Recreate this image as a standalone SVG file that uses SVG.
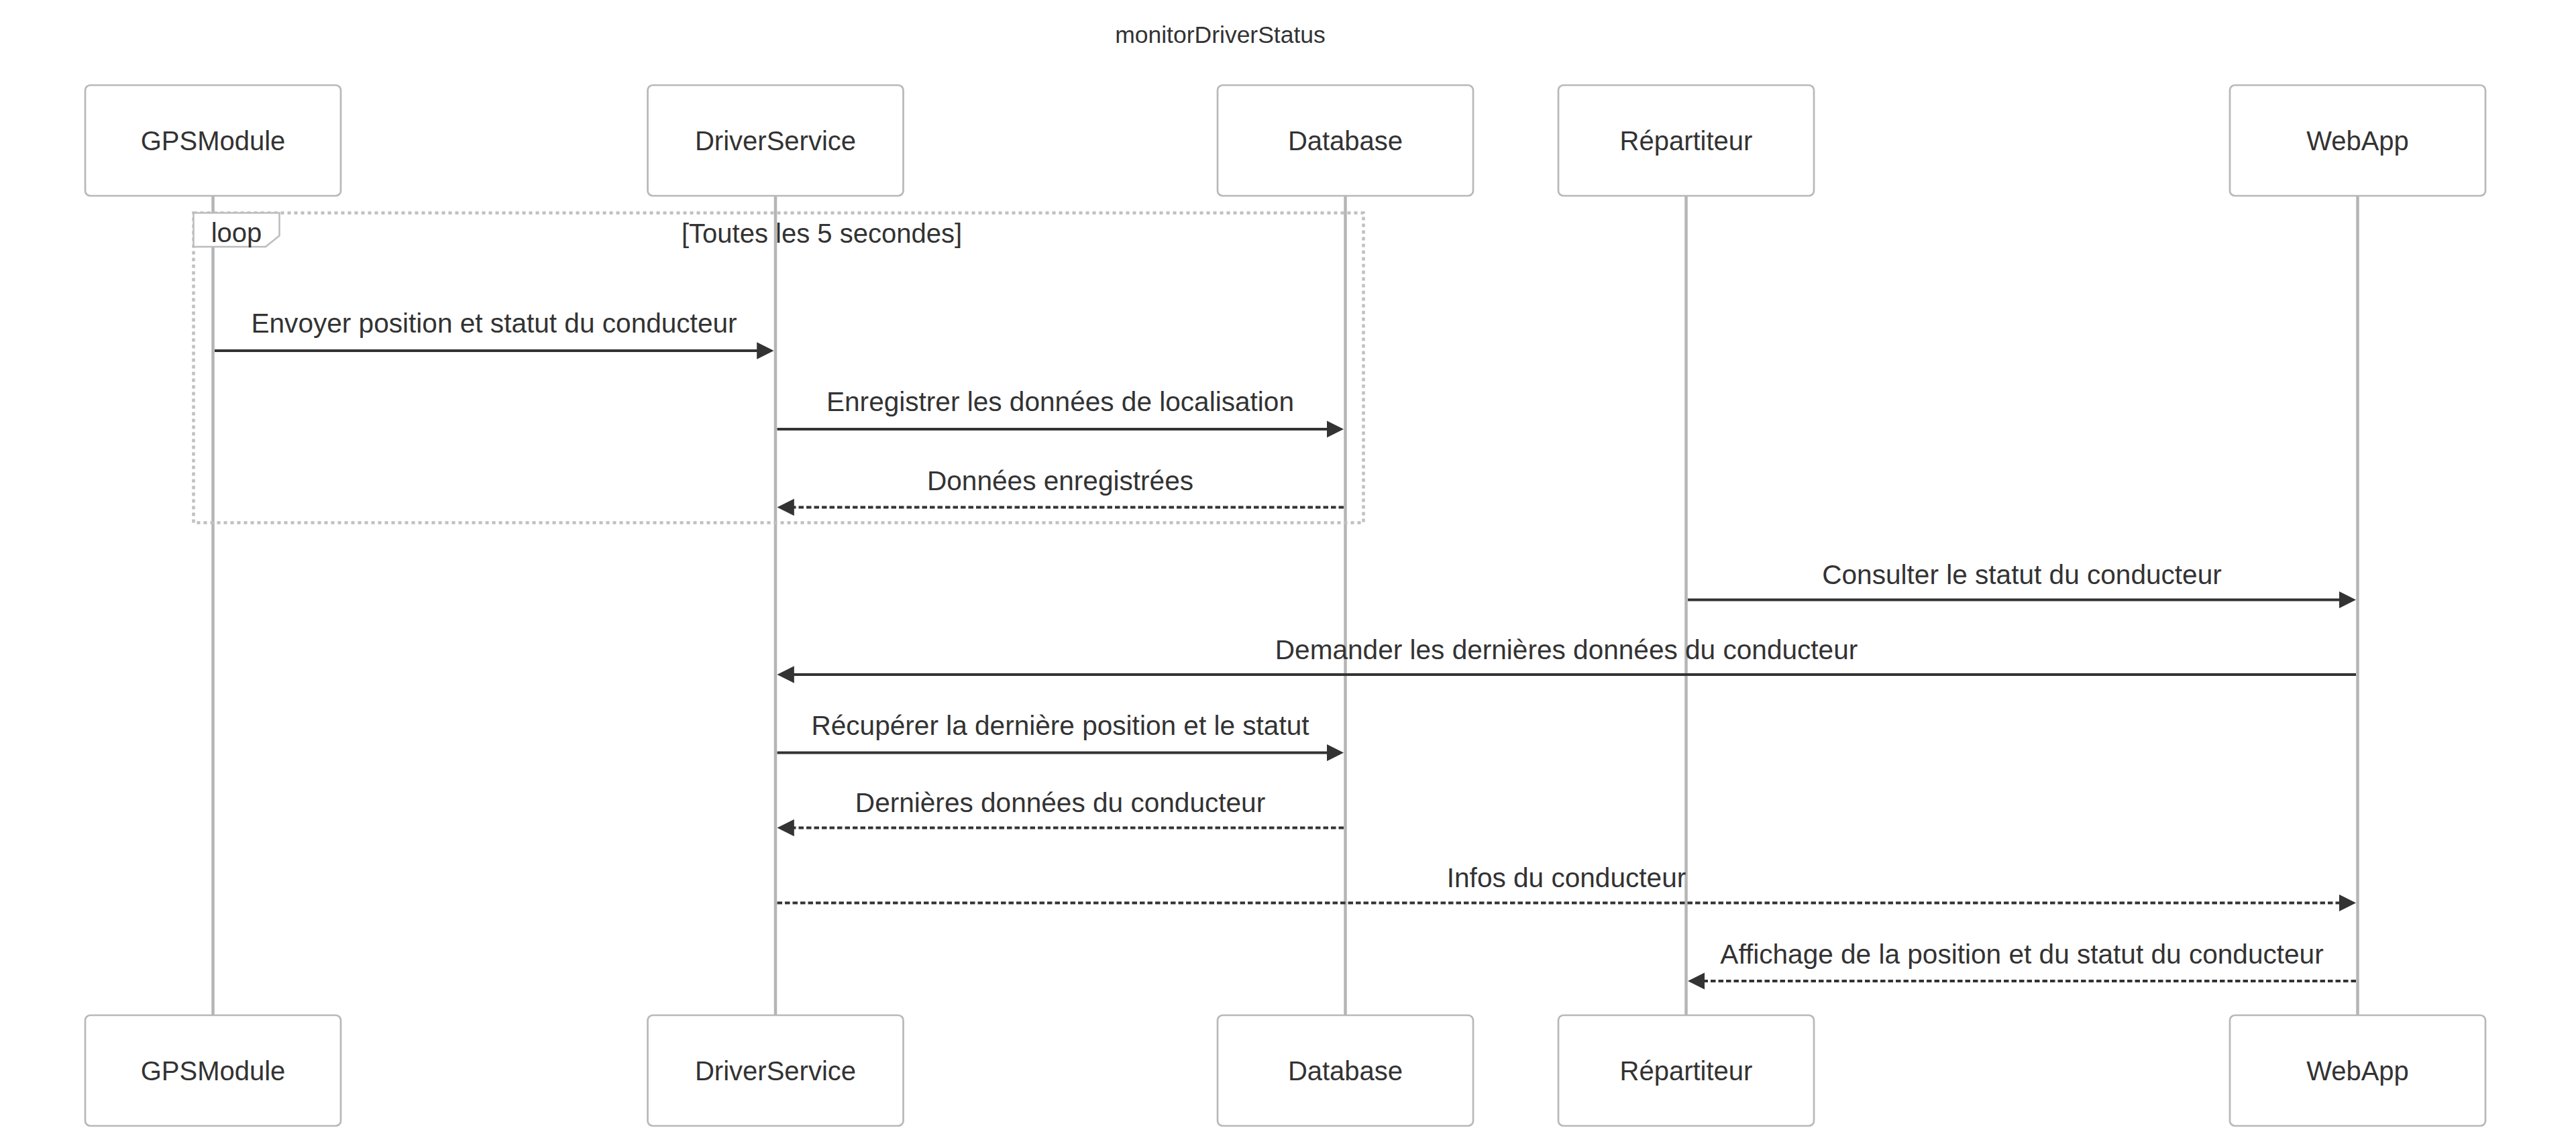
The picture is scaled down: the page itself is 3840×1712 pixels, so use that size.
<svg xmlns="http://www.w3.org/2000/svg" width="3840" height="1712" viewBox="0 0 3840 1712">
  <style>
    text { font-family: "Liberation Sans", Arial, sans-serif; fill: #333333; }
    .title { font-size: 35.5px; text-anchor: middle; }
    .actor-box { fill: #ffffff; stroke: #b8b8b8; stroke-width: 2.7; }
    .actor-text { font-size: 40px; text-anchor: middle; }
    .lifeline { stroke: #b5b5b5; stroke-width: 4.5; }
    .loop-line { fill: none; stroke: #c0c0c0; stroke-width: 4.5; stroke-dasharray: 5 5; }
    .loop-label-box { fill: #ffffff; stroke: #bcbcbc; stroke-width: 2.5; }
    .loop-text { font-size: 40px; text-anchor: middle; }
    .msg { stroke: #333333; stroke-width: 4; fill: none; marker-end: url(#arrowhead); }
    .msg.dotted { stroke-dasharray: 7.5 4; }
    .msg-text { font-size: 40.6px; text-anchor: middle; }
  </style>
  <defs>
    <marker id="arrowhead" viewBox="0 0 10 10" refX="8" refY="5" markerUnits="userSpaceOnUse" markerWidth="25.4" markerHeight="25.4" orient="auto">
      <path d="M0,0 L10,5 L0,10 z" fill="#333333"/>
    </marker>
  </defs>

  <rect x="0" y="0" width="3840" height="1712" fill="#ffffff"/>

  <text class="title" x="1819" y="64">monitorDriverStatus</text>

  <!-- participants: head box, lifeline, foot box -->
  <g id="actor-gpsmodule">
    <line class="lifeline" x1="317.5" y1="292" x2="317.5" y2="1514"/>
    <rect class="actor-box" x="127" y="127" width="381" height="165" rx="7.5"/>
    <text class="actor-text" x="317.5" y="224">GPSModule</text>
    <rect class="actor-box" x="127" y="1514" width="381" height="165" rx="7.5"/>
    <text class="actor-text" x="317.5" y="1611">GPSModule</text>
  </g>
  <g id="actor-driverservice">
    <line class="lifeline" x1="1156" y1="292" x2="1156" y2="1514"/>
    <rect class="actor-box" x="965.5" y="127" width="381" height="165" rx="7.5"/>
    <text class="actor-text" x="1156" y="224">DriverService</text>
    <rect class="actor-box" x="965.5" y="1514" width="381" height="165" rx="7.5"/>
    <text class="actor-text" x="1156" y="1611">DriverService</text>
  </g>
  <g id="actor-database">
    <line class="lifeline" x1="2005.5" y1="292" x2="2005.5" y2="1514"/>
    <rect class="actor-box" x="1815" y="127" width="381" height="165" rx="7.5"/>
    <text class="actor-text" x="2005.5" y="224">Database</text>
    <rect class="actor-box" x="1815" y="1514" width="381" height="165" rx="7.5"/>
    <text class="actor-text" x="2005.5" y="1611">Database</text>
  </g>
  <g id="actor-repartiteur">
    <line class="lifeline" x1="2513.5" y1="292" x2="2513.5" y2="1514"/>
    <rect class="actor-box" x="2323" y="127" width="381" height="165" rx="7.5"/>
    <text class="actor-text" x="2513.5" y="224">Répartiteur</text>
    <rect class="actor-box" x="2323" y="1514" width="381" height="165" rx="7.5"/>
    <text class="actor-text" x="2513.5" y="1611">Répartiteur</text>
  </g>
  <g id="actor-webapp">
    <line class="lifeline" x1="3514.5" y1="292" x2="3514.5" y2="1514"/>
    <rect class="actor-box" x="3324" y="127" width="381" height="165" rx="7.5"/>
    <text class="actor-text" x="3514.5" y="224">WebApp</text>
    <rect class="actor-box" x="3324" y="1514" width="381" height="165" rx="7.5"/>
    <text class="actor-text" x="3514.5" y="1611">WebApp</text>
  </g>

  <!-- loop fragment -->
  <g id="loop-fragment">
    <rect class="loop-line" x="288.5" y="317.5" width="1744" height="462"/>
    <polygon class="loop-label-box" points="288.5,317.5 416.5,317.5 416.5,351.5 396,368 288.5,368"/>
    <text class="loop-text" x="352.5" y="361">loop</text>
    <text class="loop-text" x="1225" y="362">[Toutes les 5 secondes]</text>
  </g>

  <!-- messages -->
  <g id="messages">
    <line class="msg" x1="320" y1="523" x2="1148.5" y2="523"/>
    <text class="msg-text" x="736.5" y="496">Envoyer position et statut du conducteur</text>

    <line class="msg" x1="1158.5" y1="640" x2="1998" y2="640"/>
    <text class="msg-text" x="1580.5" y="613">Enregistrer les données de localisation</text>

    <line class="msg dotted" x1="2003" y1="756.5" x2="1163.5" y2="756.5"/>
    <text class="msg-text" x="1580.5" y="731">Données enregistrées</text>

    <line class="msg" x1="2516" y1="894.5" x2="3507" y2="894.5"/>
    <text class="msg-text" x="3014" y="871">Consulter le statut du conducteur</text>

    <line class="msg" x1="3512" y1="1006" x2="1163.5" y2="1006"/>
    <text class="msg-text" x="2335" y="983">Demander les dernières données du conducteur</text>

    <line class="msg" x1="1158.5" y1="1122.5" x2="1998" y2="1122.5"/>
    <text class="msg-text" x="1580.5" y="1096">Récupérer la dernière position et le statut</text>

    <line class="msg dotted" x1="2003" y1="1234.5" x2="1163.5" y2="1234.5"/>
    <text class="msg-text" x="1580.5" y="1211">Dernières données du conducteur</text>

    <line class="msg dotted" x1="1158.5" y1="1346.5" x2="3507" y2="1346.5"/>
    <text class="msg-text" x="2335" y="1323">Infos du conducteur</text>

    <line class="msg dotted" x1="3512" y1="1463" x2="2521" y2="1463"/>
    <text class="msg-text" x="3014" y="1437">Affichage de la position et du statut du conducteur</text>
  </g>
</svg>
